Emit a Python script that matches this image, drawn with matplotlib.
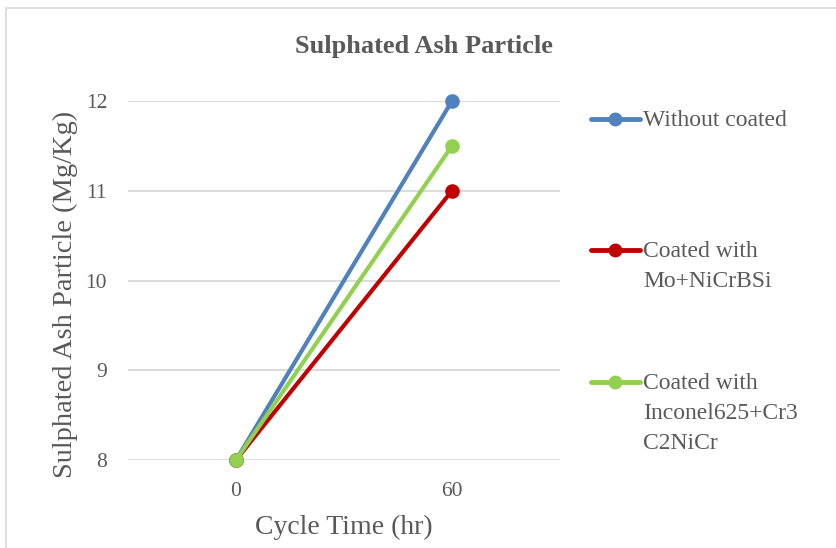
import matplotlib.pyplot as plt
from matplotlib.lines import Line2D
from matplotlib.patches import Rectangle

# data
cycle_time = ['0', '60']
without_coated = [8, 12]
mo_nicrbsi = [8, 11]
inconel = [8, 11.5]

labels = ['Without coated', 'Coated with\nMo+NiCrBSi', 'Coated with\nInconel625+Cr3\nC2NiCr']
colors = ['#4F81BD', '#C00000', '#92D050']

plt.rcParams['font.family'] = ['Liberation Serif', 'DejaVu Serif']
txt = '#595959'

fig = plt.figure(figsize=(8.37, 5.48), dpi=100)
ax = fig.add_axes([128 / 837, 1 - 460 / 548, 432 / 837, 359 / 548])

xs = [0.5, 1.5]
for vals, c in zip([without_coated, mo_nicrbsi, inconel], colors):
    ax.plot(xs, vals, color=c, lw=3, marker='o', ms=9.5, clip_on=False, zorder=3)

ax.set_xlim(0, 2)
ax.set_ylim(8, 12)
ax.set_xticks(xs)
ax.set_xticklabels(cycle_time)
ax.set_yticks([8, 9, 10, 11, 12])
ax.grid(axis='y', color='#D9D9D9', lw=1.3)
ax.set_axisbelow(True)
for s in ax.spines.values():
    s.set_visible(False)
ax.tick_params(length=0, labelsize=15.5, colors=txt, pad=15)
ax.tick_params(axis='x', pad=16)

ax.set_xlabel('Cycle Time (hr)', fontsize=20, color=txt, labelpad=10)
ax.set_ylabel('Sulphated Ash Particle (Mg/Kg)', fontsize=20.5, color=txt)
ax.yaxis.set_label_coords(-0.116, 0.46)
fig.text(424 / 837, 1 - 47 / 548, 'Sulphated Ash Particle', fontsize=19, fontweight='bold',
         color=txt, ha='center', va='center')

# legend drawn by hand to keep handles on the first text line
leg_y = [119, 250, 382]
for y, lab, c in zip(leg_y, labels, colors):
    yf = 1 - y / 548
    fig.add_artist(Line2D([591 / 837, 640 / 837], [yf, yf], color=c, lw=3.5,
                          solid_capstyle='round'))
    fig.add_artist(Line2D([615.5 / 837], [yf], color=c, marker='o', ms=9))
    fig.text(643 / 837, yf + 9 / 548, lab, fontsize=17, color=txt, ha='left', va='top',
             linespacing=1.55)

fig.add_artist(Rectangle((6 / 837, -0.1), 1.2, 1 - 8 / 548 + 0.1, transform=fig.transFigure,
                         fill=False, edgecolor='#D9D9D9', lw=1.2))

fig.savefig('out.png', dpi=100)
